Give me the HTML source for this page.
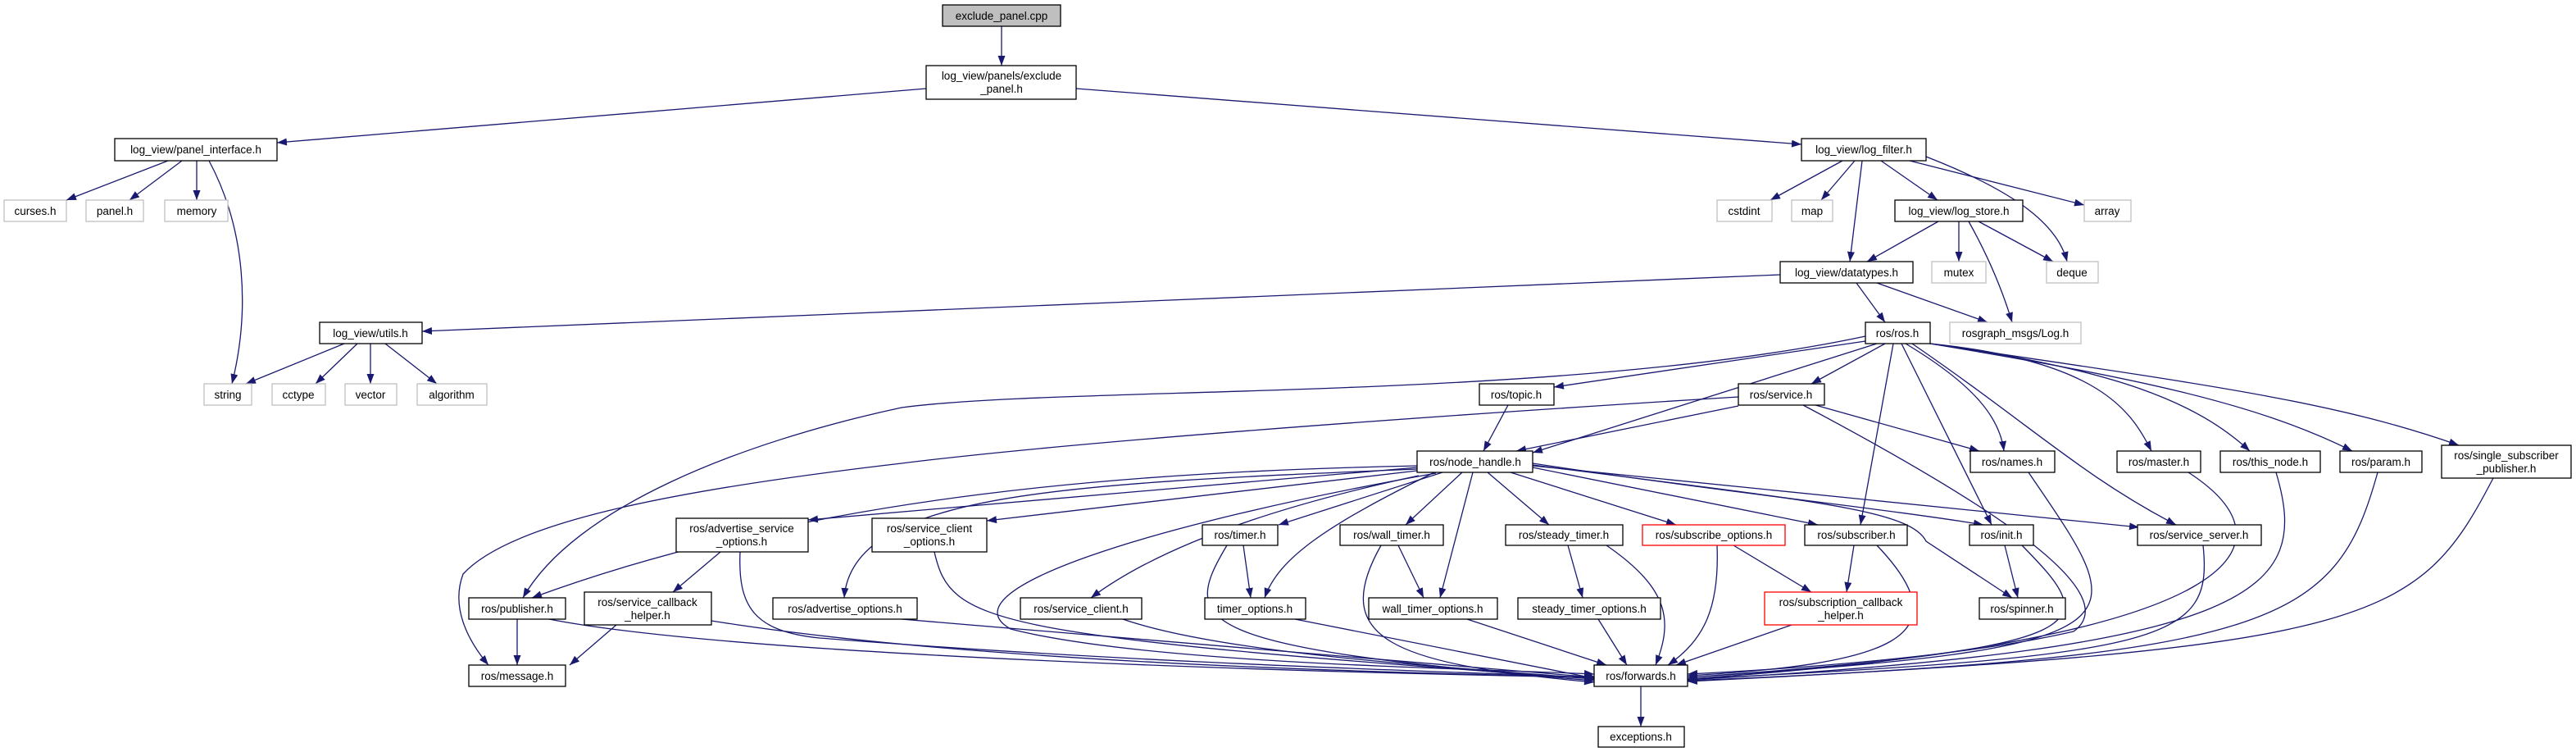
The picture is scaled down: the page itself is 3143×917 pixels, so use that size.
<!DOCTYPE html>
<html><head><meta charset="utf-8"><style>
html,body{margin:0;padding:0;background:#fff;}
svg{display:block}
text{font-family:"Liberation Sans","DejaVu Sans",sans-serif;font-size:13.5px;fill:#000;text-anchor:middle}
.n rect{fill:#fff;stroke:#000;stroke-width:1.3}
.g rect{fill:#fff;stroke:#bfbfbf;stroke-width:1.3}
.r rect{fill:#fff;stroke:#ff0000;stroke-width:1.3}
.e{fill:none;stroke:#191970;stroke-width:1.3;marker-end:url(#a)}
</style></head><body>
<svg width="3143" height="917" viewBox="0 0 3143 917" xmlns="http://www.w3.org/2000/svg">
<defs><marker id="a" markerUnits="userSpaceOnUse" markerWidth="12" markerHeight="9" refX="12" refY="4.5" orient="auto"><path d="M0,0 L12,4.5 L0,9 z" fill="#191970"/></marker></defs>
<g>
<path class="e" d="M1222 32 L1222 80"/>
<path class="e" d="M1130 108 L338 174"/>
<path class="e" d="M1313 108 L2198 176"/>
<path class="e" d="M205 196 L81 244"/>
<path class="e" d="M222 196 L158 244"/>
<path class="e" d="M240 196 L240 244"/>
<path class="e" d="M255 196 C300 280, 305 380, 283 468"/>
<path class="e" d="M2248 196 L2160 244"/>
<path class="e" d="M2263 196 L2222 244"/>
<path class="e" d="M2272 196 L2257 319"/>
<path class="e" d="M2295 196 L2364 244"/>
<path class="e" d="M2330 196 L2543 250"/>
<path class="e" d="M2350 191 C2450 230, 2510 270, 2522 319"/>
<path class="e" d="M2365 270 L2278 319"/>
<path class="e" d="M2390 270 L2390 319"/>
<path class="e" d="M2414 270 L2505 319"/>
<path class="e" d="M2402 270 C2430 320, 2445 360, 2455 393"/>
<path class="e" d="M2172 335 L515 404"/>
<path class="e" d="M2265 345 L2300 393"/>
<path class="e" d="M2290 345 L2425 393"/>
<path class="e" d="M420 419 L300 468"/>
<path class="e" d="M436 419 L385 468"/>
<path class="e" d="M452 419 L452 468"/>
<path class="e" d="M470 419 L533 468"/>
<path class="e" d="M2276 410 C1900 490, 1300 470, 1100 497 C900 540, 700 620, 638 729"/>
<path class="e" d="M2276 416 L1896 472"/>
<path class="e" d="M2290 419 L1870 552"/>
<path class="e" d="M2300 419 L2210 468"/>
<path class="e" d="M2325 419 C2410 470, 2440 510, 2445 550"/>
<path class="e" d="M2310 419 L2270 640"/>
<path class="e" d="M2320 419 L2430 640"/>
<path class="e" d="M2333 419 C2480 520, 2540 580, 2655 640"/>
<path class="e" d="M2355 419 C2560 440, 2600 500, 2625 550"/>
<path class="e" d="M2355 419 C2580 450, 2680 490, 2745 550"/>
<path class="e" d="M2355 419 C2600 460, 2750 490, 2870 550"/>
<path class="e" d="M2355 419 C2700 470, 2850 490, 3000 543"/>
<path class="e" d="M1840 494 L1810 550"/>
<path class="e" d="M2121 495 L1850 550"/>
<path class="e" d="M2215 494 L2415 550"/>
<path class="e" d="M2121 484 C1700 510, 1300 540, 1100 565 C800 600, 620 640, 565 700 C550 740, 570 780, 596 811"/>
<path class="e" d="M2200 494 C2400 600, 2600 720, 2530 770 C2400 800, 2200 815, 2059 822"/>
<path class="e" d="M1729 568 C1400 575, 1000 600, 649 729"/>
<path class="e" d="M1729 570 L986 634"/>
<path class="e" d="M1729 572 C1300 590, 1040 600, 1030 729"/>
<path class="e" d="M1729 574 L1204 635"/>
<path class="e" d="M1731 580 Q1450 640 1331 729"/>
<path class="e" d="M1760 576 L1560 640"/>
<path class="e" d="M1750 576 C1620 640, 1560 680, 1543 729"/>
<path class="e" d="M1784 576 L1715 640"/>
<path class="e" d="M1797 576 L1757 729"/>
<path class="e" d="M1815 576 L1890 640"/>
<path class="e" d="M1843 576 L2045 640"/>
<path class="e" d="M1870 570 L2218 640"/>
<path class="e" d="M1870 565 C2100 600, 2300 620, 2420 640"/>
<path class="e" d="M1870 568 L2610 643"/>
<path class="e" d="M1870 567 C2200 610, 2330 620, 2350 660 L2455 729"/>
<path class="e" d="M1752 577 C1400 640, 1150 720, 1233 767 C1400 810, 1800 815, 1945 822"/>
<path class="e" d="M670 755 C900 800, 1600 820, 1945 826"/>
<path class="e" d="M868 757 C1200 810, 1700 820, 1945 826"/>
<path class="e" d="M903 673 C900 740, 920 770, 1000 778 C1400 810, 1800 820, 1945 826"/>
<path class="e" d="M1100 755 L1945 826"/>
<path class="e" d="M1140 673 C1160 760, 1200 775, 1945 828"/>
<path class="e" d="M1370 755 C1500 800, 1800 815, 1945 828"/>
<path class="e" d="M1497 665 C1440 760, 1450 790, 1945 830"/>
<path class="e" d="M1580 755 L1950 828"/>
<path class="e" d="M1685 665 C1620 780, 1700 810, 1945 832"/>
<path class="e" d="M1790 755 L1960 811"/>
<path class="e" d="M1950 755 L1985 811"/>
<path class="e" d="M1960 665 C2040 720, 2040 760, 2020 811"/>
<path class="e" d="M2095 665 C2098 740, 2080 780, 2035 811"/>
<path class="e" d="M2115 665 L2210 722"/>
<path class="e" d="M2186 762 L2045 811"/>
<path class="e" d="M2262 665 L2253 722"/>
<path class="e" d="M2290 665 C2400 780, 2300 810, 2059 824"/>
<path class="e" d="M2446 665 L2462 729"/>
<path class="e" d="M2467 665 C2560 760, 2580 790, 2059 826"/>
<path class="e" d="M2475 576 C2600 760, 2640 790, 2059 826"/>
<path class="e" d="M2688 665 C2700 780, 2650 800, 2059 828"/>
<path class="e" d="M2670 576 C2800 660, 2760 780, 2059 828"/>
<path class="e" d="M2777 576 C2820 720, 2760 790, 2059 829"/>
<path class="e" d="M2901 576 C2850 760, 2780 800, 2059 830"/>
<path class="e" d="M3042 583 C2950 760, 2900 790, 2059 831"/>
<path class="e" d="M879 673 L821 722"/>
<path class="e" d="M752 762 L695 811"/>
<path class="e" d="M631 755 L631 811"/>
<path class="e" d="M1517 665 L1526 729"/>
<path class="e" d="M1706 665 L1737 729"/>
<path class="e" d="M1913 665 L1931 729"/>
<path class="e" d="M2002 837 L2002 886"/>
</g>
<g class="n"><rect x="1150" y="6" width="144" height="26" style="fill:#bfbfbf"/><text x="1222" y="24">exclude_panel.cpp</text></g>
<g class="n"><rect x="1130" y="80" width="183" height="41"/><text x="1222" y="97">log_view/panels/exclude</text><text x="1222" y="113">_panel.h</text></g>
<g class="n"><rect x="140" y="169" width="198" height="27"/><text x="239" y="187">log_view/panel_interface.h</text></g>
<g class="g"><rect x="5" y="244" width="76" height="26"/><text x="43" y="262">curses.h</text></g>
<g class="g"><rect x="105" y="244" width="70" height="26"/><text x="140" y="262">panel.h</text></g>
<g class="g"><rect x="201" y="244" width="77" height="26"/><text x="240" y="262">memory</text></g>
<g class="n"><rect x="2198" y="169" width="152" height="27"/><text x="2274" y="187">log_view/log_filter.h</text></g>
<g class="g"><rect x="2095" y="244" width="67" height="26"/><text x="2128" y="262">cstdint</text></g>
<g class="g"><rect x="2186" y="244" width="50" height="26"/><text x="2211" y="262">map</text></g>
<g class="n"><rect x="2312" y="244" width="156" height="26"/><text x="2390" y="262">log_view/log_store.h</text></g>
<g class="g"><rect x="2543" y="244" width="57" height="26"/><text x="2571" y="262">array</text></g>
<g class="n"><rect x="2172" y="319" width="162" height="26"/><text x="2253" y="337">log_view/datatypes.h</text></g>
<g class="g"><rect x="2357" y="319" width="66" height="26"/><text x="2390" y="337">mutex</text></g>
<g class="g"><rect x="2497" y="319" width="63" height="26"/><text x="2528" y="337">deque</text></g>
<g class="n"><rect x="390" y="393" width="125" height="26"/><text x="452" y="411">log_view/utils.h</text></g>
<g class="n"><rect x="2276" y="393" width="79" height="26"/><text x="2315" y="411">ros/ros.h</text></g>
<g class="g"><rect x="2379" y="393" width="160" height="26"/><text x="2459" y="411">rosgraph_msgs/Log.h</text></g>
<g class="g"><rect x="249" y="468" width="58" height="26"/><text x="278" y="486">string</text></g>
<g class="g"><rect x="332" y="468" width="65" height="26"/><text x="364" y="486">cctype</text></g>
<g class="g"><rect x="421" y="468" width="63" height="26"/><text x="452" y="486">vector</text></g>
<g class="g"><rect x="509" y="468" width="85" height="26"/><text x="551" y="486">algorithm</text></g>
<g class="n"><rect x="1805" y="468" width="91" height="26"/><text x="1850" y="486">ros/topic.h</text></g>
<g class="n"><rect x="2121" y="468" width="105" height="26"/><text x="2173" y="486">ros/service.h</text></g>
<g class="n"><rect x="1729" y="550" width="141" height="26"/><text x="1800" y="568">ros/node_handle.h</text></g>
<g class="n"><rect x="2404" y="550" width="103" height="26"/><text x="2455" y="568">ros/names.h</text></g>
<g class="n"><rect x="2583" y="550" width="102" height="26"/><text x="2634" y="568">ros/master.h</text></g>
<g class="n"><rect x="2709" y="550" width="122" height="26"/><text x="2770" y="568">ros/this_node.h</text></g>
<g class="n"><rect x="2855" y="550" width="100" height="26"/><text x="2905" y="568">ros/param.h</text></g>
<g class="n"><rect x="2979" y="543" width="158" height="40"/><text x="3058" y="560">ros/single_subscriber</text><text x="3058" y="576">_publisher.h</text></g>
<g class="n"><rect x="825" y="632" width="161" height="41"/><text x="905" y="649">ros/advertise_service</text><text x="905" y="665">_options.h</text></g>
<g class="n"><rect x="1064" y="632" width="140" height="41"/><text x="1134" y="649">ros/service_client</text><text x="1134" y="665">_options.h</text></g>
<g class="n"><rect x="1467" y="640" width="92" height="25"/><text x="1513" y="657">ros/timer.h</text></g>
<g class="n"><rect x="1635" y="640" width="126" height="25"/><text x="1698" y="657">ros/wall_timer.h</text></g>
<g class="n"><rect x="1837" y="640" width="143" height="25"/><text x="1908" y="657">ros/steady_timer.h</text></g>
<g class="r"><rect x="2004" y="640" width="174" height="25"/><text x="2091" y="657">ros/subscribe_options.h</text></g>
<g class="n"><rect x="2202" y="640" width="125" height="25"/><text x="2265" y="657">ros/subscriber.h</text></g>
<g class="n"><rect x="2403" y="640" width="78" height="25"/><text x="2442" y="657">ros/init.h</text></g>
<g class="n"><rect x="2608" y="640" width="151" height="25"/><text x="2683" y="657">ros/service_server.h</text></g>
<g class="n"><rect x="572" y="729" width="118" height="26"/><text x="631" y="747">ros/publisher.h</text></g>
<g class="n"><rect x="713" y="722" width="155" height="40"/><text x="790" y="739">ros/service_callback</text><text x="790" y="755">_helper.h</text></g>
<g class="n"><rect x="943" y="729" width="176" height="26"/><text x="1031" y="747">ros/advertise_options.h</text></g>
<g class="n"><rect x="1245" y="729" width="148" height="26"/><text x="1319" y="747">ros/service_client.h</text></g>
<g class="n"><rect x="1470" y="729" width="123" height="26"/><text x="1531" y="747">timer_options.h</text></g>
<g class="n"><rect x="1670" y="729" width="157" height="26"/><text x="1748" y="747">wall_timer_options.h</text></g>
<g class="n"><rect x="1852" y="729" width="174" height="26"/><text x="1939" y="747">steady_timer_options.h</text></g>
<g class="r"><rect x="2153" y="722" width="186" height="40"/><text x="2246" y="739">ros/subscription_callback</text><text x="2246" y="755">_helper.h</text></g>
<g class="n"><rect x="2415" y="729" width="105" height="26"/><text x="2467" y="747">ros/spinner.h</text></g>
<g class="n"><rect x="572" y="811" width="118" height="26"/><text x="631" y="829">ros/message.h</text></g>
<g class="n"><rect x="1945" y="811" width="114" height="26"/><text x="2002" y="829">ros/forwards.h</text></g>
<g class="n"><rect x="1950" y="886" width="105" height="25"/><text x="2002" y="903">exceptions.h</text></g>
</svg>
</body></html>
